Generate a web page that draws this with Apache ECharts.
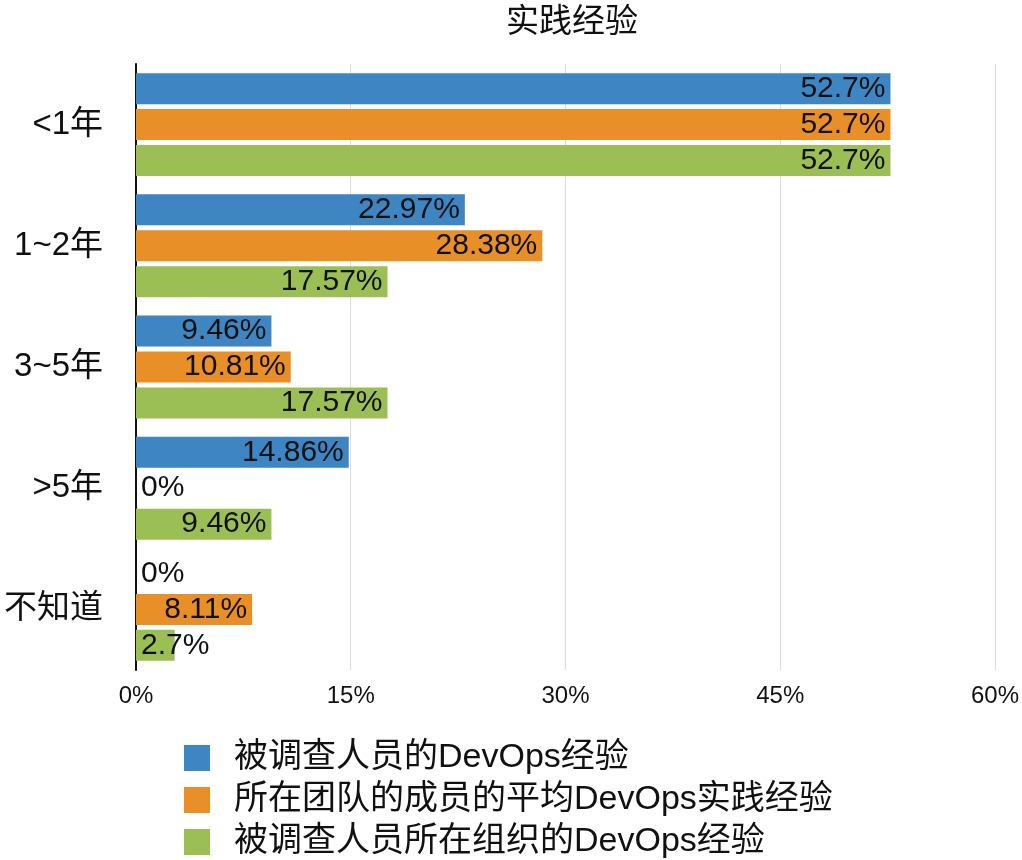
<!DOCTYPE html>
<html><head><meta charset="utf-8">
<script src="https://cdn.jsdelivr.net/npm/echarts@6/dist/echarts.min.js"></script>
<style>html,body{margin:0;padding:0;background:#fff}#c{width:1022px;height:860px}</style>
</head><body><div id="c"></div>
<script>
const categories = ['<1年', '1~2年', '3~5年', '>5年', '不知道'];
const seriesNames = ['被调查人员的DevOps经验', '所在团队的成员的平均DevOps实践经验', '被调查人员所在组织的DevOps经验'];
const respondent = [52.7, 22.97, 9.46, 14.86, 0];
const team = [52.7, 28.38, 10.81, 0, 8.11];
const organization = [52.7, 17.57, 17.57, 9.46, 2.7];
const xTicks = [0, 15, 30, 45, 60];
const colors = ['#3d85c3', '#e98f27', '#9bbf55'];

const FONT = "'Liberation Sans', 'Noto Sans CJK SC', sans-serif";
function mk(vals) {
  return vals.map(v => ({
    value: v,
    label: { position: v < 5 ? 'insideLeft' : 'insideRight' }
  }));
}
const chart = echarts.init(document.getElementById('c'));
const allData = [respondent, team, organization];
chart.setOption({
  animation: false,
  textStyle: { fontFamily: FONT },
  title: { text: '实践经验', left: 501, top: 1,
    textStyle: { fontSize: 33, fontWeight: 'normal', color: '#111', fontFamily: FONT } },
  grid: { left: 136, right: 27, top: 64, bottom: 190, containLabel: false },
  xAxis: {
    type: 'value', min: xTicks[0], max: xTicks[xTicks.length - 1], interval: 15,
    axisLine: { show: false }, axisTick: { show: false },
    splitLine: { lineStyle: { color: '#dcdcdc', width: 1 } },
    axisLabel: { formatter: '{value}%', fontSize: 24, color: '#111', margin: 14, fontFamily: FONT }
  },
  yAxis: {
    type: 'category', data: categories, inverse: true,
    axisLine: { lineStyle: { color: '#111', width: 2 } },
    axisTick: { show: false },
    axisLabel: { fontSize: 33, color: '#111', margin: 33, fontFamily: FONT, padding: [8, 0, 0, 0], lineHeight: 40 }
  },
  legend: {
    orient: 'vertical', left: 179, top: 736, height: 140, itemWidth: 26, itemHeight: 26, itemGap: 8,
    icon: 'rect',
    textStyle: { fontSize: 34, color: '#111', fontFamily: FONT, padding: [0, 0, 0, 19] },
    data: seriesNames
  },
  series: seriesNames.map((n, i) => ({
    name: n, type: 'bar', data: mk(allData[i]),
    barWidth: 31, barGap: '16%',
    itemStyle: { color: colors[i] },
    label: { show: true, formatter: p => p.value + '%', fontSize: 30, color: '#111', distance: 5, fontFamily: FONT }
  }))
});
</script></body></html>
